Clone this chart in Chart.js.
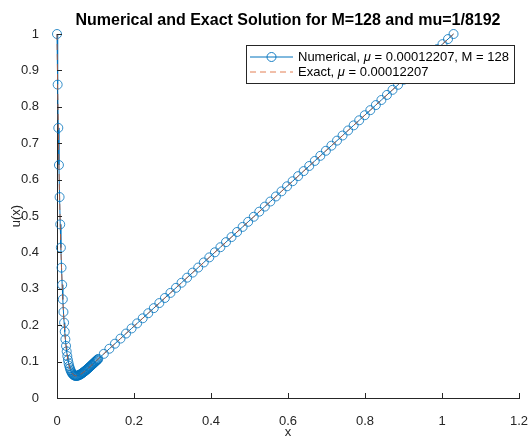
<!DOCTYPE html>
<html>
<head>
<meta charset="utf-8">
<script src="https://cdn.jsdelivr.net/npm/chart.js@4"></script>
<style>
  html, body { margin: 0; padding: 0; background: #fff; }
  canvas { display: block; }
</style>
</head>
<body>
<canvas id="solChart" width="529" height="438"></canvas>
<script>
// mesh nodes (layer part, then coarse part)
const xMesh = [
  0, 0.00168, 0.00335, 0.00503, 0.0067, 0.00838, 0.01005, 0.01173, 0.0134, 0.01508,
  0.01675, 0.01843, 0.0201, 0.02178, 0.02345, 0.02513, 0.0268, 0.02848, 0.03015, 0.03183,
  0.0335, 0.03518, 0.03685, 0.03853, 0.0402, 0.04188, 0.04355, 0.04523, 0.0469, 0.04858,
  0.05025, 0.05193, 0.0536, 0.05528, 0.05695, 0.05863, 0.0603, 0.06198, 0.06365, 0.06533,
  0.067, 0.06868, 0.07035, 0.07203, 0.0737, 0.07538, 0.07705, 0.07873, 0.0804, 0.08208,
  0.08375, 0.08543, 0.0871, 0.08878, 0.09045, 0.09213, 0.0938, 0.09548, 0.09715, 0.09883,
  0.1005, 0.10218, 0.10385, 0.10553, 0.1072,
  0.1216, 0.1360, 0.1505, 0.1649, 0.1793, 0.1937, 0.2081, 0.2226, 0.2370, 0.2514,
  0.2658, 0.2802, 0.2947, 0.3091, 0.3235, 0.3379, 0.3523, 0.3668, 0.3812, 0.3956,
  0.4100, 0.4244, 0.4389, 0.4533, 0.4677, 0.4821, 0.4965, 0.5110, 0.5254, 0.5398,
  0.5542, 0.5686, 0.5831, 0.5975, 0.6119, 0.6263, 0.6407, 0.6552, 0.6696, 0.6840,
  0.6984, 0.7128, 0.7273, 0.7417, 0.7561, 0.7705, 0.7849, 0.7994, 0.8138, 0.8282,
  0.8426, 0.8570, 0.8715, 0.8859, 0.9003, 0.9147, 0.9291, 0.9436, 0.9580, 0.9724,
  0.9868, 1.0012, 1.0156, 1.0300
];

const uNumerical = [
  1.000, 0.861, 0.742, 0.640, 0.552, 0.477, 0.413, 0.358, 0.311, 0.271,
  0.2363, 0.2070, 0.1822, 0.1611, 0.1432, 0.1280, 0.1152, 0.1045, 0.0955, 0.0879,
  0.0817, 0.0766, 0.0725, 0.0691, 0.0665, 0.0645, 0.0630, 0.0619, 0.0612, 0.0609,
  0.0609, 0.0610, 0.0614, 0.0620, 0.0628, 0.0636, 0.0646, 0.0657, 0.0668, 0.0680,
  0.0693, 0.0707, 0.0721, 0.0735, 0.0750, 0.0765, 0.0780, 0.0795, 0.0811, 0.0827,
  0.0843, 0.0858, 0.0874, 0.0891, 0.0907, 0.0924, 0.0941, 0.0957, 0.0974, 0.0991,
  0.1007, 0.1024, 0.1041, 0.1058, 0.1074,
  0.1213, 0.1353, 0.1492, 0.1632, 0.1771, 0.1911, 0.2050, 0.2190, 0.2329, 0.2469,
  0.2608, 0.2748, 0.2887, 0.3027, 0.3166, 0.3306, 0.3445, 0.3584, 0.3724, 0.3863,
  0.4003, 0.4142, 0.4282, 0.4421, 0.4561, 0.4700, 0.4840, 0.4979, 0.5119, 0.5258,
  0.5398, 0.5537, 0.5677, 0.5816, 0.5955, 0.6095, 0.6234, 0.6374, 0.6513, 0.6653,
  0.6792, 0.6932, 0.7071, 0.7211, 0.7350, 0.7490, 0.7629, 0.7769, 0.7908, 0.8048,
  0.8187, 0.8326, 0.8466, 0.8605, 0.8745, 0.8884, 0.9024, 0.9163, 0.9303, 0.9442,
  0.9582, 0.9721, 0.9861, 1.0000
];

// exact solution at the same nodes (indistinguishable from numerical at this scale)
const uExact = uNumerical;

const xTicks = [0, 0.2, 0.4, 0.6, 0.8, 1, 1.2];
const yTicks = [0, 0.1, 0.2, 0.3, 0.4, 0.5, 0.6, 0.7, 0.8, 0.9, 1];

const titleText = 'Numerical and Exact Solution for M=128 and mu=1/8192';
const xLabel = 'x';
const yLabel = 'u(x)';
const legendNumerical = ['Numerical, ', 'μ', ' = 0.00012207, M = 128'];
const legendExact = ['Exact, ', 'μ', ' = 0.00012207'];

const FONT = '"Liberation Sans", Arial, Helvetica, sans-serif';
const AXIS_COLOR = '#262626';
const BLUE = '#0072BD';
const ORANGE = 'rgba(217, 83, 25, 0.75)';

const toPoints = (xs, ys) => xs.map((x, i) => ({ x: x, y: ys[i] }));
const fmtTick = v => String(Number(v.toFixed(2)));

function drawLegendText(ctx, parts, x, y) {
    let cx = x;
    parts.forEach((p, i) => {
        ctx.font = (i === 1 ? 'italic ' : '') + '13px ' + FONT;
        ctx.fillText(p, cx, y);
        cx += ctx.measureText(p).width;
    });
}

const decorPlugin = {
    id: 'decor',
    afterDatasetsDraw(chart) {
        const ctx = chart.ctx;
        const { x, y } = chart.scales;
        const area = chart.chartArea;
        ctx.save();
        // inward tick marks
        ctx.strokeStyle = AXIS_COLOR;
        ctx.lineWidth = 1;
        ctx.beginPath();
        xTicks.forEach(v => {
            const px = Math.round(x.getPixelForValue(v)) + 0.5;
            ctx.moveTo(px, area.bottom);
            ctx.lineTo(px, area.bottom - 5);
        });
        yTicks.forEach(v => {
            const py = Math.round(y.getPixelForValue(v)) + 0.5;
            ctx.moveTo(area.left, py);
            ctx.lineTo(area.left + 5, py);
        });
        ctx.stroke();

        // legend box
        const lx = 246.5, ly = 45.5, lw = 268, lh = 38;
        ctx.fillStyle = '#fff';
        ctx.fillRect(lx, ly, lw, lh);
        ctx.strokeStyle = AXIS_COLOR;
        ctx.strokeRect(lx, ly, lw, lh);

        ctx.strokeStyle = BLUE;
        ctx.beginPath();
        ctx.moveTo(250, 57);
        ctx.lineTo(293, 57);
        ctx.stroke();
        ctx.lineWidth = 0.9;
        ctx.beginPath();
        ctx.arc(271.5, 57, 4.5, 0, Math.PI * 2);
        ctx.stroke();

        ctx.strokeStyle = ORANGE;
        ctx.lineWidth = 1;
        ctx.setLineDash([6, 4]);
        ctx.beginPath();
        ctx.moveTo(250, 72);
        ctx.lineTo(293, 72);
        ctx.stroke();
        ctx.setLineDash([]);

        ctx.fillStyle = '#000';
        ctx.textBaseline = 'middle';
        ctx.textAlign = 'left';
        drawLegendText(ctx, legendNumerical, 298, 57);
        drawLegendText(ctx, legendExact, 298, 72);
        ctx.restore();
    },
    afterDraw(chart) {
        const ctx = chart.ctx;
        const area = chart.chartArea;
        const midX = (area.left + area.right) / 2;
        ctx.save();
        ctx.fillStyle = '#000';
        ctx.textAlign = 'center';
        ctx.textBaseline = 'middle';
        ctx.font = 'bold 16px ' + FONT;
        ctx.fillText(titleText, midX, 21);

        ctx.fillStyle = AXIS_COLOR;
        ctx.font = '13px ' + FONT;
        ctx.fillText(xLabel, midX, 432);
        ctx.translate(16, (area.top + area.bottom) / 2);
        ctx.rotate(-Math.PI / 2);
        ctx.fillText(yLabel, 0, 0);
        ctx.restore();
    }
};

const ctx = document.getElementById('solChart').getContext('2d');

const solChart = new Chart(ctx, {
    type: 'scatter',
    data: {
        datasets: [
            {
                label: 'Exact',
                data: toPoints(xMesh, uExact),
                showLine: true,
                borderColor: ORANGE,
                borderWidth: 1,
                borderDash: [6, 4],
                pointRadius: 0,
                tension: 0,
                clip: false,
                order: 0
            },
            {
                label: 'Numerical',
                data: toPoints(xMesh, uNumerical),
                showLine: true,
                borderColor: BLUE,
                borderWidth: 1,
                pointStyle: 'circle',
                pointRadius: 4.5,
                pointBorderWidth: 0.8,
                pointBorderColor: BLUE,
                pointBackgroundColor: 'rgba(0,0,0,0)',
                tension: 0,
                clip: false,
                order: 1
            }
        ]
    },
    options: {
        responsive: false,
        animation: false,
        layout: { padding: { top: 34, right: 10, left: 0, bottom: 0 } },
        scales: {
            x: {
                type: 'linear',
                min: 0,
                max: 1.2,
                afterBuildTicks: s => { s.ticks = xTicks.map(v => ({ value: v })); },
                afterFit: s => { s.height = 40; s.paddingLeft = 0; s.paddingRight = 0; },
                grid: { display: false },
                border: { display: true, color: AXIS_COLOR, width: 1 },
                ticks: {
                    color: AXIS_COLOR,
                    padding: 8,
                    maxRotation: 0,
                    font: { family: FONT, size: 13 },
                    callback: fmtTick
                }
            },
            y: {
                type: 'linear',
                min: 0,
                max: 1,
                afterBuildTicks: s => { s.ticks = yTicks.map(v => ({ value: v })); },
                afterFit: s => { s.width = 57; s.paddingTop = 0; s.paddingBottom = 0; },
                grid: { display: false },
                border: { display: true, color: AXIS_COLOR, width: 1 },
                ticks: {
                    color: AXIS_COLOR,
                    padding: 10,
                    font: { family: FONT, size: 13 },
                    callback: fmtTick
                }
            }
        },
        plugins: {
            legend: { display: false },
            title: { display: false },
            tooltip: { enabled: false }
        }
    },
    plugins: [decorPlugin]
});
</script>
</body>
</html>
